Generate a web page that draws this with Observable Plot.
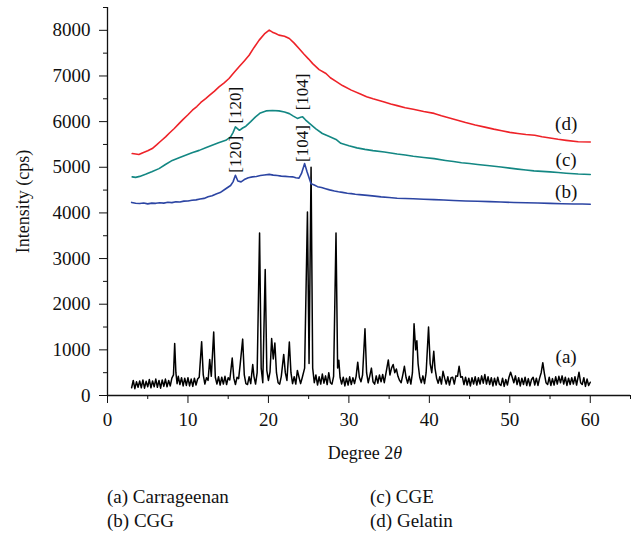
<!DOCTYPE html>
<html>
<head>
<meta charset="utf-8">
<script src="https://cdn.jsdelivr.net/npm/d3@7"></script>
<script src="https://cdn.jsdelivr.net/npm/@observablehq/plot@0.6"></script>
<style>
  html, body { margin: 0; padding: 0; background: #fff; }
  #chart svg { display: block; }
  #caption { font-family: "Liberation Serif", "DejaVu Serif", serif; font-size: 19px; color: #111;
    display: grid; grid-template-columns: 263px 260px; padding-left: 107px; margin-top: 15px; line-height: 24px; }
</style>
</head>
<body>
<div id="chart"></div>
<div id="caption"></div>
<script>
// ---- data: [2θ (degree), intensity (cps)] ----
const carrageenan = [
[3.0,170],[3.2,330],[3.4,150],[3.6,300],[3.8,180],[4.0,320],[4.2,170],[4.4,340],[4.6,160],[4.8,310],
[5.0,190],[5.2,350],[5.4,170],[5.6,320],[5.8,190],[6.0,360],[6.2,180],[6.4,330],[6.6,160],[6.8,340],
[7.0,200],[7.2,360],[7.4,190],[7.6,330],[7.8,210],[8.0,380],[8.2,450],[8.35,1140],[8.5,500],[8.65,260],
[8.8,420],[9.0,240],[9.2,390],[9.4,210],[9.6,380],[9.8,220],[10.0,390],[10.2,210],[10.4,360],[10.6,200],
[10.8,380],[11.0,230],[11.2,360],[11.4,400],[11.7,1180],[11.9,450],[12.1,250],[12.3,390],[12.5,330],[12.7,790],
[12.9,420],[13.2,1390],[13.4,400],[13.6,250],[13.8,410],[14.0,230],[14.2,400],[14.4,250],[14.6,420],[14.8,240],
[15.0,390],[15.2,340],[15.5,820],[15.7,380],[15.9,240],[16.1,400],[16.3,370],[16.5,700],[16.8,1235],[17.0,450],
[17.2,260],[17.4,240],[17.6,410],[17.8,260],[18.05,680],[18.2,420],[18.4,250],[18.6,500],[18.9,3560],[19.1,600],
[19.3,280],[19.6,2760],[19.8,550],[20.0,330],[20.2,520],[20.4,1250],[20.6,800],[20.8,1150],[21.0,500],[21.2,280],
[21.4,250],[21.6,420],[21.9,900],[22.1,500],[22.3,330],[22.6,1170],[22.8,500],[23.0,260],[23.2,410],[23.4,250],
[23.6,550],[23.8,400],[24.0,260],[24.2,390],[24.5,600],[24.85,4020],[25.05,700],[25.3,5000],[25.5,600],[25.7,280],
[25.9,450],[26.1,230],[26.3,410],[26.5,250],[26.7,470],[26.9,270],[27.1,430],[27.3,240],[27.5,500],[27.7,280],
[27.9,250],[28.1,420],[28.4,3560],[28.6,600],[28.75,770],[28.9,400],[29.1,250],[29.3,400],[29.5,210],[29.7,380],
[29.9,230],[30.1,410],[30.3,240],[30.5,390],[30.7,260],[30.9,420],[31.1,730],[31.3,400],[31.5,300],[31.7,450],
[32.0,1460],[32.2,500],[32.4,280],[32.6,430],[32.8,600],[33.0,300],[33.2,250],[33.4,430],[33.6,270],[33.8,450],
[34.0,300],[34.2,460],[34.4,280],[34.6,480],[34.9,780],[35.1,450],[35.3,600],[35.5,680],[35.7,500],[35.9,580],
[36.1,420],[36.3,330],[36.5,280],[36.7,450],[36.9,640],[37.1,400],[37.3,270],[37.5,420],[37.7,250],[37.9,500],
[38.1,1570],[38.3,1000],[38.45,1200],[38.6,700],[38.8,400],[39.0,280],[39.2,430],[39.4,260],[39.6,500],[39.9,1500],
[40.1,700],[40.3,500],[40.55,970],[40.7,600],[40.9,380],[41.1,270],[41.3,410],[41.5,250],[41.7,530],[41.9,380],
[42.1,250],[42.3,410],[42.5,230],[42.7,390],[42.9,400],[43.1,250],[43.3,430],[43.5,420],[43.7,640],[43.9,400],
[44.1,410],[44.3,240],[44.5,400],[44.7,230],[44.9,380],[45.1,210],[45.3,390],[45.5,250],[45.7,410],[45.9,230],
[46.1,390],[46.3,250],[46.5,430],[46.7,270],[46.9,460],[47.1,250],[47.3,410],[47.5,240],[47.7,390],[47.9,210],
[48.1,380],[48.3,230],[48.5,400],[48.7,250],[48.9,220],[49.1,380],[49.3,200],[49.5,350],[49.7,230],[49.9,400],
[50.1,510],[50.3,400],[50.5,280],[50.7,430],[50.9,240],[51.1,390],[51.3,210],[51.5,380],[51.7,240],[51.9,400],
[52.1,220],[52.3,370],[52.5,210],[52.7,350],[52.9,400],[53.1,230],[53.3,380],[53.5,220],[53.7,380],[53.9,500],
[54.1,720],[54.3,480],[54.5,280],[54.7,240],[54.9,400],[55.1,220],[55.3,370],[55.5,230],[55.7,410],[55.9,250],
[56.1,420],[56.3,280],[56.5,430],[56.7,250],[56.9,400],[57.1,220],[57.3,380],[57.5,240],[57.7,390],[57.9,250],
[58.1,410],[58.3,230],[58.6,510],[58.8,280],[59.0,240],[59.2,390],[59.4,200],[59.6,360],[59.8,220],[60.0,290]
];
const cgg = [
[3.0,4230],[3.5,4212],[4.0,4205],[4.5,4218],[5.0,4198],[5.5,4214],[6.0,4210],[6.5,4222],[7.0,4215],[7.5,4232],
[8.0,4226],[8.5,4244],[9.0,4240],[9.5,4258],[10.0,4262],[10.5,4278],[11.0,4286],[11.5,4306],[12.0,4318],[12.5,4352],
[13.0,4376],[13.5,4415],[14.0,4445],[14.7,4530],[15.3,4600],[15.6,4680],[15.9,4825],[16.2,4700],[16.6,4680],[17.0,4730],
[17.5,4772],[18.0,4790],[18.5,4798],[19.0,4818],[19.5,4830],[20.1,4845],[20.6,4828],[21.1,4818],[21.6,4806],[22.1,4800],
[22.6,4792],[23.0,4790],[23.4,4770],[23.8,4762],[24.1,4860],[24.5,5080],[24.8,4900],[25.3,4640],[25.7,4612],[26.1,4575],
[26.6,4556],[27.1,4530],[27.6,4505],[28.2,4480],[28.7,4462],[29.2,4450],[29.8,4430],[30.3,4422],[30.8,4408],[31.3,4400],
[32.3,4385],[33.2,4368],[34.0,4352],[35.0,4338],[36.0,4322],[37.0,4316],[38.0,4310],[39.3,4298],[40.6,4290],[41.8,4282],
[43.0,4272],[44.5,4262],[46.0,4255],[47.5,4248],[48.9,4240],[50.5,4228],[52.0,4222],[53.5,4216],[55.0,4210],[56.5,4202],
[58.0,4196],[59.0,4194],[60.0,4190]
];
const cge = [
[3.07,4790],[3.5,4778],[4.0,4800],[4.73,4845],[5.5,4900],[6.4,4970],[7.2,5060],[8.05,5150],[8.9,5210],[9.7,5265],
[10.5,5320],[11.4,5370],[12.2,5425],[13.0,5480],[13.8,5535],[14.7,5590],[15.3,5665],[15.6,5760],[15.9,5885],[16.4,5810],
[16.8,5860],[17.2,5900],[17.8,6000],[18.4,6105],[19.0,6190],[19.7,6235],[20.5,6245],[21.3,6235],[22.0,6210],[22.6,6175],
[23.1,6120],[23.6,6070],[24.0,6095],[24.25,6105],[24.6,6040],[25.1,5960],[25.9,5840],[26.7,5740],[27.5,5680],[28.4,5610],
[29.0,5525],[30.0,5470],[31.0,5425],[32.0,5392],[33.0,5365],[34.4,5335],[35.2,5312],[36.0,5290],[37.0,5268],[38.0,5240],
[39.3,5215],[40.6,5190],[42.0,5150],[43.0,5125],[44.0,5100],[45.0,5082],[46.0,5060],[47.5,5032],[48.9,5005],[50.0,4982],
[51.0,4960],[52.0,4940],[53.0,4920],[54.0,4910],[55.0,4900],[56.0,4884],[57.0,4870],[58.5,4852],[60.0,4840]
];
const gelatin = [
[3.07,5300],[3.5,5290],[3.9,5280],[4.4,5320],[5.0,5360],[5.56,5410],[6.1,5490],[6.6,5570],[7.22,5665],[7.7,5750],
[8.3,5850],[8.88,5955],[9.4,6050],[10.0,6150],[10.55,6250],[11.1,6330],[11.6,6420],[12.2,6505],[12.7,6580],[13.3,6670],
[13.86,6760],[14.5,6850],[15.1,6945],[15.7,7070],[16.35,7200],[17.0,7330],[17.6,7455],[18.2,7620],[18.85,7785],[19.5,7920],
[20.1,8005],[20.5,7960],[20.9,7930],[21.3,7895],[22.0,7870],[22.6,7820],[23.2,7720],[23.8,7600],[24.4,7480],[25.0,7370],
[25.5,7270],[26.3,7140],[27.15,7055],[27.7,6960],[28.4,6880],[29.2,6790],[30.3,6690],[31.5,6600],[32.2,6545],[33.0,6500],
[34.4,6430],[35.2,6385],[36.0,6350],[37.0,6305],[38.0,6270],[39.3,6222],[40.6,6180],[41.5,6130],[42.5,6080],[43.5,6030],
[44.5,5980],[45.7,5925],[46.9,5880],[48.0,5835],[49.0,5800],[50.0,5765],[51.0,5740],[52.0,5718],[53.1,5700],[54.0,5668],
[55.0,5640],[56.0,5612],[57.0,5590],[58.5,5560],[60.0,5555]
];
const seriesTags = ["(a)", "(b)", "(c)", "(d)"];
const seriesTagX = [57, 57, 57, 57];
const seriesTagY = [840, 4467, 5153, 5943];
const peakLabels = ["[120]", "[120]", "[104]", "[104]"];
const peakLabelX = [15.86, 15.86, 24.25, 24.25];
const peakLabelY = [5285, 6360, 5520, 6650];
const xMajor = [0, 10, 20, 30, 40, 50, 60];
const xMinor = [5, 15, 25, 35, 45, 55, 65];
const yMajor = [0, 1000, 2000, 3000, 4000, 5000, 6000, 7000, 8000];
const yMinor = [500, 1500, 2500, 3500, 4500, 5500, 6500, 7500, 8500];
const captionItems = ["(a) Carrageenan", "(c) CGE", "(b) CGG", "(d) Gelatin"];
const xLabel = "Degree 2θ";
const yLabel = "Intensity (cps)";

const tags = seriesTags.map((t, i) => ({t, x: seriesTagX[i], y: seriesTagY[i]}));
const peaks = peakLabels.map((t, i) => ({t, x: peakLabelX[i], y: peakLabelY[i]}));

const chart = Plot.plot({
  width: 635,
  height: 470,
  marginLeft: 107,
  marginRight: 5,
  marginTop: 7,
  marginBottom: 75,
  style: {fontFamily: "Liberation Serif, DejaVu Serif, serif", fontSize: "18px", background: "#fff", color: "#111"},
  x: {domain: [0, 65]},
  y: {domain: [0, 8500]},
  marks: [
    Plot.axisX(xMajor, {tickSize: 8, tickPadding: 9, label: null, fontSize: 19, tickFormat: d3.format("d")}),
    Plot.axisX(xMinor, {tickSize: 4, tickFormat: () => "", label: null}),
    Plot.axisY(yMajor, {tickSize: 8, tickPadding: 9, label: null, fontSize: 19, tickFormat: d3.format("d")}),
    Plot.axisY(yMinor, {tickSize: 4, tickFormat: () => "", label: null}),
    Plot.ruleY([0], {stroke: "#111", strokeWidth: 1.3}),
    Plot.ruleX([0], {stroke: "#111", strokeWidth: 1.3}),
    Plot.line(carrageenan, {x: d => d[0], y: d => d[1], stroke: "#000", strokeWidth: 1.5}),
    Plot.line(cgg, {x: d => d[0], y: d => d[1], stroke: "#2c45a3", strokeWidth: 1.6}),
    Plot.line(cge, {x: d => d[0], y: d => d[1], stroke: "#138783", strokeWidth: 1.6}),
    Plot.line(gelatin, {x: d => d[0], y: d => d[1], stroke: "#ee2228", strokeWidth: 1.6}),
    Plot.text(tags, {x: "x", y: "y", text: "t", fontSize: 19, fill: "#111"}),
    Plot.text(peaks, {x: "x", y: "y", text: "t", rotate: -90, fontSize: 17, fill: "#111"}),
    Plot.text([xLabel], {frameAnchor: "bottom", dx: -4, dy: 58, lineAnchor: "middle", textAnchor: "middle", fontSize: 18, fill: "#111"}),
    Plot.text([yLabel], {frameAnchor: "left", dx: -84, rotate: -90, textAnchor: "middle", lineAnchor: "middle", fontSize: 18, fill: "#111"})
  ]
});
document.getElementById("chart").appendChild(chart);

// italic theta in x label
chart.querySelectorAll("text").forEach(t => {
  if (t.textContent === xLabel) {
    t.textContent = "";
    const a = document.createElementNS("http://www.w3.org/2000/svg", "tspan");
    a.textContent = "Degree 2";
    const b = document.createElementNS("http://www.w3.org/2000/svg", "tspan");
    b.textContent = "θ";
    b.setAttribute("font-style", "italic");
    t.appendChild(a); t.appendChild(b);
  }
});

const cap = document.getElementById("caption");
captionItems.forEach(s => { const d = document.createElement("div"); d.textContent = s; cap.appendChild(d); });
</script>
</body>
</html>
